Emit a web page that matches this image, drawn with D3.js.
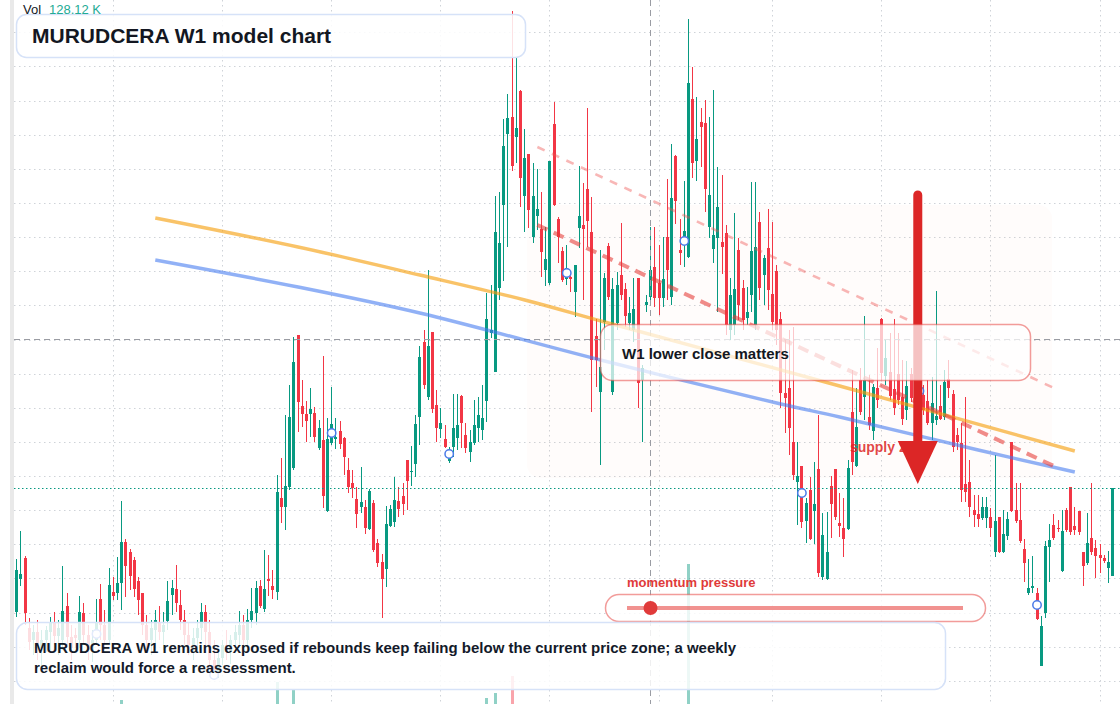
<!DOCTYPE html>
<html><head><meta charset="utf-8">
<script src="https://cdn.jsdelivr.net/npm/d3@7"></script>
<style>
html,body{margin:0;padding:0;background:#fff;overflow:hidden}
svg{display:block}
text{font-family:"Liberation Sans",Arial,Helvetica,sans-serif}
</style></head>
<body>
<svg id="chart" width="1120" height="704"></svg>
<script>
// ---------- DATA (weekly bars, price units) ----------
const opens=[10.8,14.1,16.2,9.2,8.0,8.8,7.2,8.0,8.8,9.8,
8.4,8.0,11.4,8.3,8.5,8.0,10.7,8.5,7.0,8.0,
12.1,9.5,8.0,12.8,12.7,13.7,17.8,16.8,16.0,13.9,
12.7,9.5,8.0,9.0,9.8,8.8,9.9,12.5,13.1,11.5,
10.0,8.5,7.5,8.2,9.2,10.8,8.8,6.0,4.8,6.2,
7.5,6.8,8.0,8.5,9.5,8.0,10.0,10.7,13.4,11.1,
14.1,13.4,12.8,22.2,21.3,23.3,25.2,38.5,31.4,30.6,
30.6,30.7,27.2,28.0,20.9,27.7,28.1,28.9,28.2,25.0,
23.7,22.1,21.3,21.3,19.1,21.7,17.7,15.8,15.1,19.4,
19.8,21.9,22.4,26.0,24.8,25.6,30.3,37.8,32.3,38.8,
31.5,29.1,28.1,25.9,27.3,28.2,32.4,28.5,26.8,27.7,
29.2,29.0,31.9,38.7,34.8,43.2,51.5,58.6,60.3,58.3,
62.9,52.4,56.6,48.3,50.4,49.1,45.0,43.7,59.6,50.1,
46.9,44.1,44.3,42.8,49.2,49.5,53.1,48.8,38.4,32.8,
39.8,47.4,32.8,39.7,44.5,43.1,39.7,39.0,44.2,34.0,
41.5,42.3,45.3,43.7,42.2,48.3,42.3,56.4,47.0,48.3,
46.3,62.1,55.9,59.8,59.7,49.3,47.1,48.2,47.8,48.7,
39.0,39.5,47.0,43.2,40.2,42.5,39.5,49.8,44.5,47.2,
42.6,44.9,40.1,32.7,33.2,27.8,23.8,25.4,19.9,23.0,
20.9,25.1,14.3,14.1,23.4,25.1,19.7,19.2,19.1,30.8,
25.4,34.0,32.3,30.3,28.9,33.2,40.1,34.4,34.8,33.1,
34.6,32.3,31.0,34.6,33.0,31.5,32.5,31.9,29.7,30.0,
31.4,30.3,34.1,32.6,28.5,27.7,23.6,23.8,21.0,20.6,
20.2,20.2,20.3,16.8,20.3,16.8,18.4,27.8,21.0,20.0,
17.1,12.7,13.2,12.7,5.4,10.7,17.3,19.5,19.2,14.9,
21.0,23.3,19.4,20.9,16.8,15.7,18.2,17.2,16.5,16.2,
15.2,14.4];
const highs=[16.1,18.9,16.4,10.2,9.5,10.0,9.0,9.4,10.3,10.8,
10.0,15.4,12.7,9.5,9.2,12.4,11.7,9.5,9.0,12.1,
13.6,11.0,15.2,14.3,16.3,21.9,18.1,17.1,16.3,14.3,
12.7,10.5,10.0,11.0,11.4,10.8,13.9,14.0,15.5,13.0,
11.0,9.8,9.2,10.0,11.7,11.5,10.0,8.0,7.0,8.0,
9.0,8.5,9.5,10.9,10.5,11.1,13.2,13.9,14.0,17.0,
16.5,15.0,24.5,26.2,30.5,33.5,38.3,38.5,34.0,31.9,
33.2,31.3,30.0,36.4,30.2,33.3,30.2,29.9,28.3,26.2,
25.0,23.3,25.3,22.0,23.1,22.0,18.1,16.6,21.4,21.5,
24.3,23.3,23.7,26.0,27.4,30.5,37.4,39.0,45.0,38.8,
33.0,31.2,29.5,27.3,32.6,32.6,32.5,29.7,29.0,32.0,
32.3,33.5,42.7,43.5,52.4,52.8,60.1,62.6,70.9,66.2,
63.0,59.1,56.6,55.7,55.1,52.8,49.3,55.9,61.8,50.3,
47.3,47.5,44.4,45.5,55.4,53.7,61.2,52.3,40.1,47.0,
44.7,47.7,44.2,44.8,49.7,43.7,42.3,44.2,44.2,35.5,
42.5,49.3,49.3,47.5,48.3,54.1,57.6,56.5,50.1,53.9,
70.1,65.3,62.3,61.2,62.0,60.3,63.0,55.3,54.5,49.5,
44.2,50.7,48.2,44.0,43.3,53.8,53.8,50.8,46.5,51.1,
49.8,45.5,40.8,38.0,39.0,39.3,27.8,25.4,22.2,24.3,
25.8,30.5,20.7,20.8,24.4,25.1,22.7,22.2,26.0,35.0,
33.2,35.2,40.4,34.5,33.6,37.2,40.2,38.0,38.7,40.1,
38.7,36.0,35.9,35.2,35.0,34.0,33.5,34.0,34.3,42.9,
33.5,35.0,36.0,33.0,29.2,29.7,32.3,26.0,22.5,22.5,
22.3,22.3,21.2,26.5,20.3,21.0,20.8,27.8,23.7,23.7,
18.1,16.1,16.4,13.2,10.4,17.9,19.6,20.6,20.0,21.0,
21.2,23.3,21.3,20.9,16.8,20.7,23.7,18.0,17.6,16.5,
16.9,23.2];
const lows=[10.3,13.4,9.5,7.0,6.5,6.0,5.2,6.8,7.0,7.5,
6.5,7.0,7.5,6.0,7.2,7.2,7.5,6.0,5.8,7.5,
8.0,7.0,7.5,12.0,12.0,11.0,12.3,13.0,12.3,10.5,
8.5,7.0,6.5,7.2,8.0,7.0,9.0,10.5,10.8,9.0,
7.5,6.5,6.0,7.0,8.0,7.5,5.2,4.0,4.2,5.5,
6.0,5.6,7.0,7.5,7.0,7.0,9.2,9.5,11.2,10.8,
12.4,12.1,12.0,19.7,19.0,23.0,25.0,28.8,29.3,27.8,
28.3,27.8,27.0,21.2,20.8,27.5,27.1,27.1,24.5,22.7,
22.2,19.2,20.7,18.6,19.0,16.8,15.3,10.2,13.3,19.3,
19.3,20.3,20.5,21.0,23.4,24.3,27.5,33.1,32.0,30.7,
27.8,28.2,27.2,25.7,26.3,27.0,27.2,26.7,25.8,27.5,
27.8,28.0,29.8,38.2,34.8,42.0,43.9,47.3,54.9,55.7,
51.3,48.8,49.2,47.7,49.0,44.3,43.4,43.5,51.4,45.7,
43.8,43.5,42.8,40.3,47.2,42.0,47.3,30.8,33.3,25.5,
37.0,42.0,32.5,39.0,42.0,39.3,39.0,37.8,31.2,27.8,
40.8,42.0,41.3,40.5,41.3,42.0,41.5,49.6,45.5,45.3,
46.2,54.2,53.9,55.3,50.8,48.2,45.7,40.8,44.6,38.5,
38.0,38.5,40.0,39.0,39.5,40.8,39.0,42.0,41.5,41.0,
39.0,37.5,31.2,28.7,26.5,24.0,19.5,19.2,17.7,18.0,
17.6,14.3,14.0,14.0,18.2,20.0,18.3,16.3,19.0,24.5,
25.3,30.5,30.0,29.0,28.0,31.2,34.0,33.5,32.0,30.5,
31.5,29.5,30.0,31.8,31.0,30.8,30.5,29.5,28.0,29.5,
30.0,30.0,32.2,26.8,27.0,21.8,21.8,20.3,19.3,19.3,
20.0,19.2,18.3,16.3,16.7,16.7,18.0,20.8,19.7,17.7,
13.8,12.5,12.7,10.0,5.4,10.2,13.8,18.0,18.8,14.8,
18.8,18.5,18.5,18.5,13.4,15.5,16.5,14.2,14.7,15.7,
13.7,14.4];
const closes=[15.0,14.6,10.7,7.8,8.8,7.2,8.0,9.0,9.8,8.4,
9.2,10.9,8.3,7.2,8.2,10.8,8.5,7.0,8.0,9.7,
9.5,8.0,13.5,12.4,13.7,17.8,15.4,14.4,13.1,12.0,
9.5,8.0,9.2,10.0,8.8,9.5,11.9,13.2,11.7,10.0,
8.5,7.5,8.2,9.2,10.8,8.8,6.0,4.8,6.2,7.5,
6.8,8.0,8.8,9.5,8.0,10.0,10.9,13.2,11.4,13.1,
13.9,13.0,22.8,21.3,23.4,30.3,35.8,31.8,30.6,29.9,
31.1,28.3,29.2,22.4,28.1,29.6,28.3,27.6,26.3,23.3,
23.2,20.6,21.8,19.2,22.9,17.0,15.7,14.1,19.6,21.1,
22.0,21.1,21.6,23.9,24.9,29.6,36.3,33.5,37.4,31.1,
29.2,29.7,27.3,26.4,29.2,29.5,29.7,27.2,27.8,29.5,
30.5,30.2,40.1,39.0,48.8,47.7,57.4,60.2,55.4,59.2,
54.2,56.2,51.0,52.4,51.1,46.8,46.1,55.9,51.5,48.3,
44.0,45.2,44.1,45.5,50.4,49.1,49.9,36.0,36.0,35.3,
44.2,42.3,43.1,43.5,42.5,40.4,40.7,41.1,33.7,35.2,
41.8,45.0,42.2,42.2,44.1,45.0,52.2,51.9,46.7,48.9,
63.7,55.7,58.1,59.3,53.1,52.5,48.5,51.3,47.3,39.5,
42.5,43.1,41.5,40.0,40.8,46.9,47.3,43.2,46.2,43.0,
39.8,39.0,32.7,32.2,29.2,24.5,24.4,19.8,21.7,18.1,
21.6,14.7,18.5,16.8,21.6,20.3,19.4,18.1,25.2,25.8,
29.3,30.8,34.0,29.5,33.3,32.0,34.7,36.2,32.4,31.2,
32.0,30.1,33.4,32.2,31.8,32.8,31.0,29.7,31.7,30.4,
30.1,33.8,33.2,27.3,27.8,23.0,22.8,21.3,20.5,20.1,
21.3,21.3,19.2,19.9,16.8,18.6,20.1,20.9,19.9,17.9,
15.7,13.2,13.4,10.1,9.4,17.4,18.0,18.2,19.1,18.9,
19.0,18.8,19.0,18.8,15.4,17.7,16.8,16.4,16.2,15.9,
15.8,23.2];
const volumes=[92,140,118,76,64,88,71,66,97,80,
73,150,121,85,62,133,110,79,68,125,
108,74,160,96,142,263,171,120,115,131,
144,98,70,84,77,69,138,112,126,104,
87,75,66,81,119,101,147,165,90,72,
68,83,77,95,70,102,128,156,98,174,
116,92,559,166,178,182,428,170,151,132,
118,141,107,162,158,124,95,88,137,150,
99,143,112,126,154,181,117,169,176,121,
130,104,97,140,91,168,177,160,180,164,
162,118,109,96,137,122,146,110,93,129,
127,141,296,172,378,182,175,180,658,176,
179,171,165,158,149,160,152,177,180,148,
139,128,117,135,163,150,172,181,146,168,
142,131,165,118,137,124,109,129,170,152,
114,147,139,126,120,158,177,170,133,148,
2500,184,175,162,170,151,166,157,139,160,
141,150,132,118,106,145,160,138,117,136,
134,127,163,141,155,172,146,150,118,133,
125,168,149,138,122,116,98,107,147,139,
133,124,146,105,114,99,135,103,112,118,
102,109,100,93,97,104,88,101,108,136,
91,106,97,122,86,131,119,104,92,87,
80,84,93,112,99,90,86,125,96,104,
111,101,94,121,146,138,107,91,76,103,
86,100,82,90,108,96,102,83,79,70,
75,128.12];
// time grid: bar index of each half-year boundary + its label
const timeTickBars=[23,49,75,101,127,153,180,206,232,258];
const timeTickLabels=["Jul","2021","Jul","2022","Jul","2023","Jul","2024","Jul","2025"];
// price grid levels
const priceTicks=[68.8,65.4,61.9,58.5,55.1,51.7,48.3,44.9,41.5,38.0,34.6,31.2,27.8,24.4,21.0,17.6,14.2,10.7,7.3,3.9];
// overlays (bar index, price)
const maSlowBars=[33,67,96,121,140,196,252];
const maSlowVals=[50.2,47.3,44.5,42.0,39.8,33.4,26.9];
const maFastBars=[33,67,96,140,182,196,229,252];
const maFastVals=[46.0,43.3,40.7,35.9,31.6,30.3,27.0,24.8];
const resistUpperBars=[124,247], resistUpperVals=[57.3,33.2];
const resistLowerBars=[124,247], resistLowerVals=[49.5,25.4];
const markerBars=[19,47,75,103,131,159,187,215,243];
const markerVals=[8.6,4.5,28.7,26.6,44.7,47.9,22.7,32.9,11.5];
const supplyZone={from:121.5,to:246.6,top:51.5,bottom:24.2};
const crosshair={bar:151,price:38.1};
const arrow={bar:214.6,from:52.5,to:23.6};
const momentum=0.07; // position of pressure knob on track (0..1)
const lastVolume="128.12 K";

// ---------- CHART ----------
const W=1120,H=704;
const svg=d3.select("#chart");
const N=opens.length;
const x=d3.scaleLinear().domain([0,N-1]).range([16.73,1112.6]);
const y=d3.scaleLinear().domain([0,72]).range([720,0]);
const yv=d3.scaleLinear().domain([0,2500]).range([716,564]);
const UP="#089981",DOWN="#f23645";
const px=i=>Math.floor(x(i));
const bars=opens.map((o,i)=>({i,o,h:highs[i],l:lows[i],c:closes[i],v:volumes[i],up:closes[i]>=o}));

svg.append("rect").attr("width",W).attr("height",H).attr("fill","#fff");
svg.append("rect").attr("x",10).attr("y",0).attr("width",4).attr("height",H).attr("fill","#e9e9e9");

// grid
const grid=svg.append("g").attr("stroke","#cfd3d8").attr("stroke-width",1).attr("stroke-dasharray","1.5,3.5");
grid.selectAll("line.v").data(timeTickBars).join("line").attr("class","v")
  .attr("x1",d=>px(d)+0.5).attr("x2",d=>px(d)+0.5).attr("y1",0).attr("y2",H);
grid.selectAll("line.h").data(priceTicks).join("line").attr("class","h")
  .attr("x1",14).attr("x2",W).attr("y1",d=>Math.round(y(d))+0.5).attr("y2",d=>Math.round(y(d))+0.5);

// supply zone
svg.append("rect").attr("x",x(supplyZone.from)).attr("y",y(supplyZone.top))
  .attr("width",x(supplyZone.to)-x(supplyZone.from)).attr("height",y(supplyZone.bottom)-y(supplyZone.top))
  .attr("rx",14).attr("fill","rgba(235,130,90,0.022)");

// volume
svg.append("g").selectAll("rect").data(bars).join("rect")
  .attr("x",d=>px(d.i)-1).attr("width",3)
  .attr("y",d=>yv(d.v)).attr("height",d=>yv(0)-yv(d.v))
  .attr("fill",d=>d.up?"rgba(8,153,129,0.45)":"rgba(242,54,69,0.45)");

// candles
const cg=svg.append("g").attr("shape-rendering","crispEdges");
cg.selectAll("rect.w").data(bars).join("rect").attr("class","w")
  .attr("x",d=>px(d.i)).attr("width",1)
  .attr("y",d=>y(d.h)).attr("height",d=>Math.max(1,y(d.l)-y(d.h)))
  .attr("fill",d=>d.up?UP:DOWN);
cg.selectAll("rect.b").data(bars).join("rect").attr("class","b")
  .attr("x",d=>px(d.i)-1).attr("width",3)
  .attr("y",d=>y(Math.max(d.o,d.c))).attr("height",d=>Math.max(1,Math.abs(y(d.o)-y(d.c))))
  .attr("fill",d=>d.up?UP:DOWN);

// crosshair
const ch=svg.append("g").attr("stroke","#9a9ca3").attr("stroke-width",1).attr("stroke-dasharray","6,4");
ch.append("line").attr("x1",px(crosshair.bar)+0.5).attr("x2",px(crosshair.bar)+0.5).attr("y1",0).attr("y2",H);
ch.append("line").attr("x1",14).attr("x2",W).attr("y1",Math.round(y(crosshair.price))+0.5).attr("y2",Math.round(y(crosshair.price))+0.5);

// last price line
const lastC=closes[N-1];
svg.append("line").attr("x1",14).attr("x2",W).attr("y1",Math.round(y(lastC))+0.5).attr("y2",Math.round(y(lastC))+0.5)
  .attr("stroke",UP).attr("stroke-width",1).attr("stroke-dasharray","1.5,2.5");

// moving-average style lines
const lineGen=d3.line().x(d=>x(d[0])).y(d=>y(d[1])).curve(d3.curveCatmullRom.alpha(0.5));
svg.append("path").datum(d3.zip(maSlowBars,maSlowVals)).attr("d",lineGen)
  .attr("fill","none").attr("stroke","rgba(245,158,11,0.62)").attr("stroke-width",3.4);
svg.append("path").datum(d3.zip(maFastBars,maFastVals)).attr("d",lineGen)
  .attr("fill","none").attr("stroke","rgba(66,120,240,0.58)").attr("stroke-width",3.4);

// resistance dashed lines
const straight=d3.line().x(d=>x(d[0])).y(d=>y(d[1]));
svg.append("path").datum(d3.zip(resistUpperBars,resistUpperVals)).attr("d",straight)
  .attr("fill","none").attr("stroke","rgba(239,83,80,0.42)").attr("stroke-width",2.6).attr("stroke-dasharray","8,8");
svg.append("path").datum(d3.zip(resistLowerBars,resistLowerVals)).attr("d",straight)
  .attr("fill","none").attr("stroke","rgba(229,57,53,0.58)").attr("stroke-width",4).attr("stroke-dasharray","11,7");

// markers
svg.append("g").selectAll("circle").data(d3.zip(markerBars,markerVals)).join("circle")
  .attr("cx",d=>x(d[0])).attr("cy",d=>y(d[1])).attr("r",4.2)
  .attr("fill","#fff").attr("stroke","#4a7ae8").attr("stroke-width",1.5);

// supply zone label
svg.append("text").attr("x",x(supplyZone.from)+323).attr("y",y(supplyZone.bottom)-26)
  .attr("font-size",14).attr("font-weight","bold").attr("fill","rgba(220,38,38,0.85)").text("supply zone");

// arrow
const ax=x(arrow.bar);
svg.append("line").attr("x1",ax).attr("x2",ax).attr("y1",y(arrow.from)).attr("y2",y(arrow.to)-38)
  .attr("stroke","#dc2626").attr("stroke-width",9).attr("stroke-linecap","round");
svg.append("path").attr("d",`M${ax-20},${y(arrow.to)-43}L${ax+20},${y(arrow.to)-43}L${ax},${y(arrow.to)}Z`)
  .attr("fill","#dc2626");

// callout
svg.append("rect").attr("x",600.5).attr("y",324.5).attr("width",430).attr("height",56).attr("rx",12)
  .attr("fill","rgba(255,255,255,0.72)").attr("stroke","rgba(229,57,53,0.5)").attr("stroke-width",1.5);
svg.append("text").attr("x",622).attr("y",359).attr("font-size",15).attr("font-weight","bold")
  .attr("fill","#131722").text("W1 lower close matters");

// momentum pill
svg.append("text").attr("x",627).attr("y",587).attr("font-size",13).attr("font-weight","bold")
  .attr("fill","#e03a3a").text("momentum pressure");
svg.append("rect").attr("x",605.5).attr("y",594.5).attr("width",380).attr("height",27).attr("rx",13.5)
  .attr("fill","rgba(255,255,255,0.82)").attr("stroke","rgba(229,57,53,0.5)").attr("stroke-width",1.5);
const t0=627,t1=963;
svg.append("line").attr("x1",t0).attr("x2",t1).attr("y1",608).attr("y2",608)
  .attr("stroke","rgba(229,57,53,0.55)").attr("stroke-width",4);
svg.append("circle").attr("cx",t0+(t1-t0)*momentum).attr("cy",608).attr("r",7).attr("fill","#e03a3a");

// bottom note
svg.append("rect").attr("x",16.5).attr("y",622.5).attr("width",929).attr("height",67).attr("rx",11)
  .attr("fill","rgba(255,255,255,0.84)").attr("stroke","#d6e2f8").attr("stroke-width",1.5);
const note=svg.append("text").attr("font-size",15).attr("font-weight","bold").attr("fill","#131a2a");
note.append("tspan").attr("x",34).attr("y",653).text("MURUDCERA W1 remains exposed if rebounds keep failing below the current price zone; a weekly");
note.append("tspan").attr("x",34).attr("y",673).text("reclaim would force a reassessment.");

// title
svg.append("rect").attr("x",16.5).attr("y",14.5).attr("width",509).attr("height",43).attr("rx",10)
  .attr("fill","rgba(255,255,255,0.86)").attr("stroke","#d6e2f8").attr("stroke-width",1.5);
svg.append("text").attr("x",32).attr("y",43).attr("font-size",21).attr("font-weight","bold")
  .attr("fill","#131722").text("MURUDCERA W1 model chart");

// volume legend
const lg=svg.append("text").attr("x",23).attr("y",13.5).attr("font-size",13);
lg.append("tspan").attr("fill","#131722").text("Vol");
lg.append("tspan").attr("x",49).attr("fill","#22ab94").text(lastVolume);
</script>
</body></html>
